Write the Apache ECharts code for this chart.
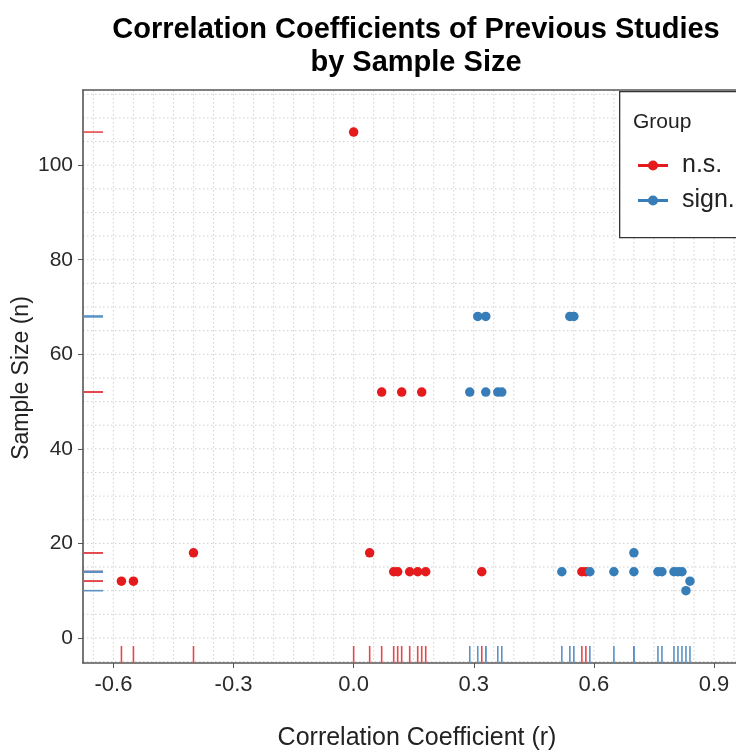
<!DOCTYPE html>
<html><head><meta charset="utf-8">
<script src="https://cdn.jsdelivr.net/npm/echarts@6/dist/echarts.min.js"></script>
<style>html,body{margin:0;padding:0;background:#fff}#c{width:736px;height:756px}</style>
</head><body><div id="c"></div>
<script>
// ---- data ----
const nsR  = [0.00, -0.40, -0.58, -0.55, 0.04, 0.07, 0.12, 0.17, 0.10, 0.11, 0.14, 0.16, 0.18, 0.32, 0.57, 0.58];
const nsN  = [107, 18, 12, 12, 18, 52, 52, 52, 14, 14, 14, 14, 14, 14, 14, 14];
const sigR = [0.31, 0.33, 0.54, 0.55, 0.29, 0.33, 0.36, 0.37, 0.52, 0.59, 0.65, 0.70, 0.76, 0.77, 0.80, 0.81, 0.82, 0.70, 0.84, 0.83];
const sigN = [68, 68, 68, 68, 52, 52, 52, 52, 14, 14, 14, 14, 14, 14, 14, 14, 14, 18, 12, 10];
const xTicks = [-0.6, -0.3, 0.0, 0.3, 0.6, 0.9];
const yTicks = [0, 20, 40, 60, 80, 100];
const groupNames = ['n.s.', 'sign.'];

const X_MIN = -0.676, X_MAX = 0.955, Y_MIN = -5.3, Y_MAX = 115.9;
const RED = '#E41A1C', BLUE = '#377EB8';
const RUG_RED = '#E8474A', RUG_BLUE = '#5A92C6';
const FONT = 'Liberation Sans, Arial, sans-serif';

const xGrid = []; for (let k = -13; k <= 19; k++) xGrid.push([+(k * 0.05).toFixed(2), 0]);
const yGrid = []; for (let k = -1; k <= 23; k++) yGrid.push([0, k * 5]);

// rug rows in drawing order (later rows overdraw earlier ones)
const nsRows = nsR.map((r, i) => [r, nsN[i], 0]);
const sigRows = sigR.map((r, i) => [r, sigN[i], 1]);
const sharedWithNs = sigRows.filter(d => d[1] === 52 || d[1] === 18 || d[1] === 12);
const restSig = sigRows.filter(d => !(d[1] === 52 || d[1] === 18 || d[1] === 12));
const rugRows = sharedWithNs.concat(nsRows, restSig);

function gridRender(dim) {
  return function (params, api) {
    const cs = params.coordSys;
    const p = api.coord([api.value(0), api.value(1)]);
    let shape;
    if (dim === 'x') {
      if (p[0] <= cs.x + 0.5 || p[0] >= cs.x + cs.width) return;
      shape = { x1: p[0], y1: cs.y, x2: p[0], y2: cs.y + cs.height };
    } else {
      if (p[1] <= cs.y + 0.5 || p[1] >= cs.y + cs.height - 0.5) return;
      shape = { x1: cs.x, y1: p[1], x2: cs.x + cs.width, y2: p[1] };
    }
    return { type: 'line', shape: shape, style: { stroke: '#d0d0d0', lineWidth: 1, lineDash: [1.5, 2.5] } };
  };
}
function rugRender(params, api) {
  const cs = params.coordSys;
  const p = api.coord([api.value(0), api.value(1)]);
  const color = api.value(2) === 0 ? RUG_RED : RUG_BLUE;
  const yb = cs.y + cs.height;
  return {
    type: 'group', children: [
      { type: 'line', shape: { x1: p[0], y1: yb, x2: p[0], y2: yb - 17 }, style: { stroke: color, lineWidth: 1.6 } },
      { type: 'line', shape: { x1: cs.x, y1: p[1], x2: cs.x + 20, y2: p[1] }, style: { stroke: color, lineWidth: 1.6 } }
    ]
  };
}
const legendIcon = 'path://M0,3.6h30v2.8h-30z M10,5a5,5 0 1,1 10,0a5,5 0 1,1 -10,0z';

const chart = echarts.init(document.getElementById('c'), null, { renderer: 'canvas' });
chart.setOption({
  animation: false,
  backgroundColor: '#fff',
  title: {
    text: 'Correlation Coefficients of Previous Studies\nby Sample Size',
    left: 411, top: 8, textAlign: 'center',
    textStyle: { fontFamily: FONT, fontSize: 29, fontWeight: 'bold', color: '#000', lineHeight: 33 }
  },
  grid: { left: 83, right: 0, top: 90, bottom: 93, containLabel: false },
  xAxis: [{
    type: 'value', min: X_MIN, max: X_MAX, position: 'bottom',
    axisLine: { show: true, onZero: false, lineStyle: { color: '#555', width: 1.6 } },
    axisTick: { show: true, customValues: xTicks, length: 5, lineStyle: { color: '#555' } },
    axisLabel: { customValues: xTicks, formatter: v => v.toFixed(1), margin: 11, fontFamily: FONT, fontSize: 22, color: '#2a2a2a' },
    splitLine: { show: false }
  }, {
    type: 'value', min: X_MIN, max: X_MAX, position: 'top',
    axisLine: { show: true, onZero: false, lineStyle: { color: '#555', width: 1.6 } },
    axisTick: { show: false }, axisLabel: { show: false }, splitLine: { show: false }
  }],
  yAxis: {
    type: 'value', min: Y_MIN, max: Y_MAX,
    axisLine: { show: true, onZero: false, lineStyle: { color: '#555', width: 1.6 } },
    axisTick: { show: true, customValues: yTicks, length: 5, lineStyle: { color: '#555' } },
    axisLabel: { customValues: yTicks, margin: 10, fontFamily: FONT, fontSize: 21, color: '#2a2a2a' },
    splitLine: { show: false }
  },
  legend: {
    data: [{ name: groupNames[0], icon: legendIcon }, { name: groupNames[1], icon: legendIcon }],
    orient: 'vertical', left: 633, top: 148, itemWidth: 30, itemHeight: 10, itemGap: 10,
    textStyle: { fontFamily: FONT, fontSize: 25, color: '#222', padding: [0, 0, 0, 9] },
    selectedMode: false, z: 20
  },
  graphic: [
    { type: 'rect', left: 619, top: 91, shape: { width: 130, height: 146 }, style: { fill: '#fff', stroke: '#333', lineWidth: 1.3 }, z: 15 },
    { type: 'text', x: 633, y: 122, style: { text: 'Group', fontFamily: FONT, fontSize: 21, fill: '#222', textAlign: 'left', textVerticalAlign: 'middle' }, z: 16 },
    { type: 'text', x: 417, y: 738, style: { text: 'Correlation Coefficient (r)', fontFamily: FONT, fontSize: 25, fill: '#222', textAlign: 'center', textVerticalAlign: 'middle' } },
    { type: 'text', x: 22, y: 378, rotation: Math.PI / 2, style: { text: 'Sample Size (n)', fontFamily: FONT, fontSize: 23, fill: '#222', textAlign: 'center', textVerticalAlign: 'middle' } }
  ],
  series: [
    { type: 'custom', name: 'gx', silent: true, z: 0, renderItem: gridRender('x'), data: xGrid },
    { type: 'custom', name: 'gy', silent: true, z: 0, renderItem: gridRender('y'), data: yGrid },
    { type: 'custom', name: 'rug', silent: true, z: 1, renderItem: rugRender, data: rugRows },
    { type: 'scatter', name: groupNames[0], symbolSize: 9.5, itemStyle: { color: RED, opacity: 1 }, z: 3, data: nsR.map((r, i) => [r, nsN[i]]) },
    { type: 'scatter', name: groupNames[1], symbolSize: 9.5, itemStyle: { color: BLUE, opacity: 1 }, z: 4, data: sigR.map((r, i) => [r, sigN[i]]) }
  ]
});
</script>
</body></html>
